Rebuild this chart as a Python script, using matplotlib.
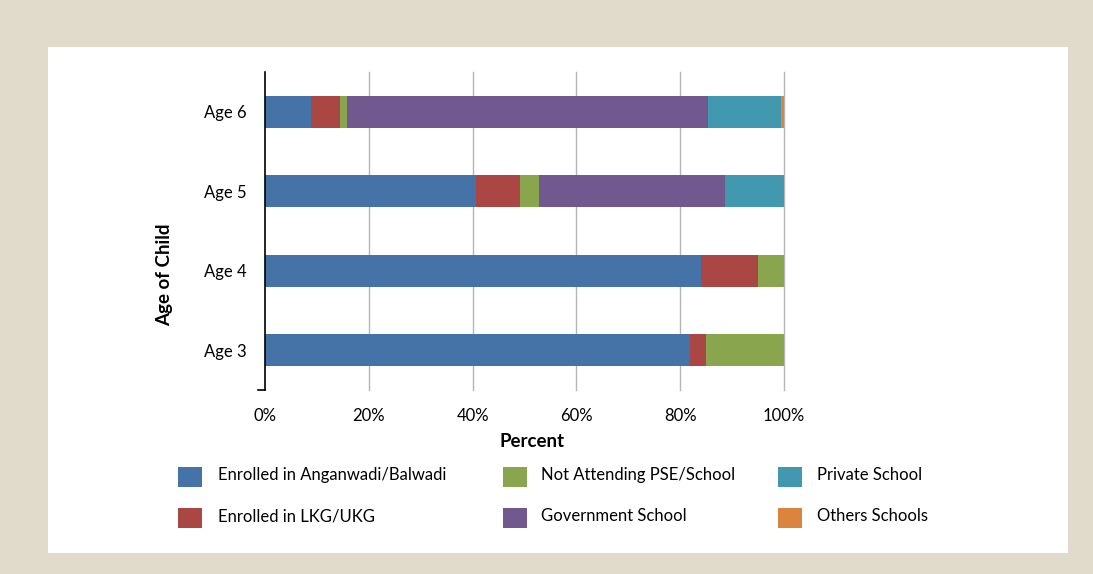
import matplotlib
matplotlib.use("Agg")
import matplotlib.pyplot as plt
from matplotlib.patches import Rectangle
from matplotlib.lines import Line2D
import numpy as np

plt.rcParams['font.family'] = ['Lato', 'DejaVu Sans']

categories = ["Age 3", "Age 4", "Age 5", "Age 6"]
series_names = ["Enrolled in Anganwadi/Balwadi", "Enrolled in LKG/UKG",
                "Not Attending PSE/School", "Government School",
                "Private School", "Others Schools"]
anganwadi = [81.9, 84.0, 40.6, 8.8]
lkg_ukg = [3.0, 10.9, 8.5, 5.6]
not_attending = [15.1, 5.1, 3.7, 1.4]
government = [0.0, 0.0, 35.9, 69.5]
private = [0.0, 0.0, 11.3, 14.2]
others = [0.0, 0.0, 0.0, 0.5]
colors = ["#4573A7", "#AA4643", "#89A54E", "#71588F", "#4198AF", "#DB843D"]
xticks = [0, 20, 40, 60, 80, 100]
xticklabels = ["0%", "20%", "40%", "60%", "80%", "100%"]

series = [anganwadi, lkg_ukg, not_attending, government, private, others]

fig = plt.figure(figsize=(10.93, 5.74), dpi=100)
fig.patch.set_facecolor("#E1DBCB")
fig.patches.append(Rectangle((48/1093, 21/574), 1020/1093, 506/574,
                             transform=fig.transFigure, facecolor="white",
                             edgecolor="none", zorder=-5))

ax = fig.add_axes([265/1093, 184/574, 519/1093, 318/574])
ax.set_facecolor("none")
ax.set_zorder(2)
y = np.arange(len(categories))
left = np.zeros(len(categories))
for vals, c, name in zip(series, colors, series_names):
    v = np.array(vals)
    ax.barh(y, v, left=left, height=0.4, color=c, label=name, zorder=3)
    left += v

ax.set_xlim(0, 100)
ax.set_ylim(-0.5, 3.5)
ax.set_xticks(xticks)
ax.set_xticklabels(xticklabels, fontsize=12)
ax.set_yticks(y)
ax.set_yticklabels(categories, fontsize=12)
ax.tick_params(axis='both', length=0)
ax.tick_params(axis='x', pad=13)
ax.tick_params(axis='y', pad=13)
for s in ["top", "right", "bottom"]:
    ax.spines[s].set_visible(False)
ax.spines["left"].set_linewidth(1.2)
ax.spines["left"].set_zorder(4)
for xv in xticks[1:]:
    ax.axvline(xv, color="#b5b5b5", lw=1, zorder=1, clip_on=False)
ax.add_line(Line2D([-1.4, 0], [-0.5, -0.5], color="black", lw=1.2, clip_on=False))

ax.set_xlabel("Percent", fontsize=13.5, fontweight="bold")
ax.set_ylabel("Age of Child", fontsize=13.5, fontweight="bold")
ax.xaxis.set_label_coords(0.514, -0.135)
ax.yaxis.set_label_coords(-0.178, 0.362)

# legend
col_x = [178, 503, 778]
text_x = [218, 541, 817]
row_y = [477, 518]
order = [(0, 0), (0, 1), (1, 0), (1, 1), (2, 0), (2, 1)]
for i, (ci, ri) in enumerate(order):
    fig.patches.append(Rectangle((col_x[ci]/1093, (574 - row_y[ri] - 10)/574),
                                 24/1093, 20/574, transform=fig.transFigure,
                                 facecolor=colors[i], edgecolor="none"))
    fig.text(text_x[ci]/1093, (574 - row_y[ri] + 2)/574, series_names[i],
             fontsize=12, va="center", ha="left")

fig.savefig("out.png", dpi=100, facecolor=fig.get_facecolor())
